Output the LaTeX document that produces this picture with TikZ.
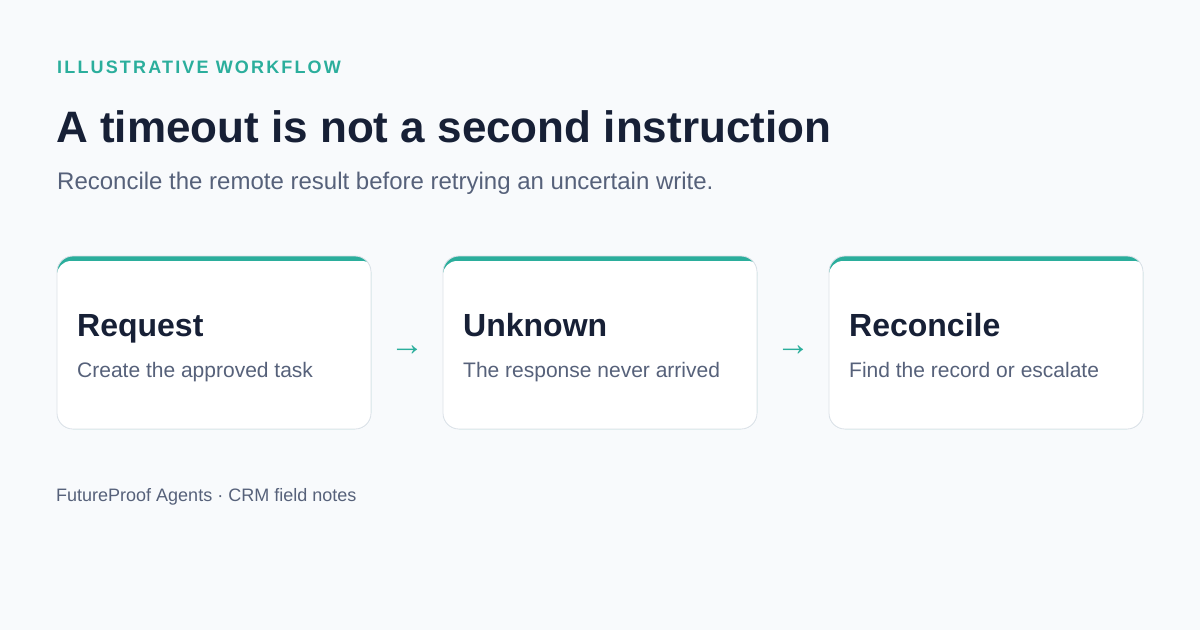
\documentclass[tikz,border=0pt]{standalone}
\usepackage{fontspec}
\setmainfont{Liberation Sans}
\newfontfamily\kickerfont[LetterSpace=12]{Liberation Sans}
\usetikzlibrary{positioning}
\definecolor{pagebg}{HTML}{F8FAFC}
\definecolor{accent}{HTML}{2BAE9C}
\definecolor{ink}{HTML}{172036}
\definecolor{muted}{HTML}{56617A}
\definecolor{cardline}{HTML}{DCE1E8}
\newcommand*{\cardwd}{314pt}
\newcommand*{\cardht}{173pt}
\newcommand*{\cardgap}{72pt}
\tikzset{
  card/.style={draw=cardline, line width=0.8pt, fill=accent, rounded corners=16pt,
    minimum width=\cardwd, minimum height=\cardht, inner sep=0pt, outer sep=0pt,
    path picture={\fill[white, rounded corners=14pt] ([yshift=-5pt]path picture bounding box.north west) rectangle
      ([xshift=5pt, yshift=-30pt]path picture bounding box.south east);
      \fill[white] ([xshift=-5pt, yshift=-16pt]path picture bounding box.north west) rectangle
      ([xshift=5pt, yshift=-30pt]path picture bounding box.south east);}},
  cardtitle/.style={anchor=base west, inner sep=0pt, text=ink, font=\fontsize{32}{38}\selectfont\bfseries},
  carddesc/.style={anchor=base west, inner sep=0pt, text=muted, font=\fontsize{21}{25}\selectfont},
  flow/.style={inner sep=0pt, text=accent, font=\fontsize{34}{36}\selectfont}
}
\begin{document}
\begin{tikzpicture}[x=1pt, y=-1pt]
    \fill[pagebg] (0,0) rectangle (1200,630);
    \useasboundingbox (0,0) rectangle (1200,630);
    % heading
    \node[anchor=base west, inner sep=0pt, text=accent, font=\kickerfont\fontsize{18}{22}\selectfont\bfseries] (kicker) at (57,73) {ILLUSTRATIVE WORKFLOW};
    \node[anchor=base west, inner sep=0pt, text=ink, font=\fontsize{44}{52}\selectfont\bfseries] (title) at (56,142) {A timeout is not a second instruction};
    \node[anchor=base west, inner sep=0pt, text=muted, font=\fontsize{24}{29}\selectfont] (subtitle) at (57,189) {Reconcile the remote result before retrying an uncertain write.};
    % cards
    \node[card, anchor=north west] (request) at (57,256) {};
    \node[card, right=\cardgap of request] (unknown) {};
    \node[card, right=\cardgap of unknown] (reconcile) {};
    \foreach \card/\head/\desc in {request/Request/Create the approved task,
        unknown/Unknown/The response never arrived,
        reconcile/Reconcile/Find the record or escalate}{
        \node[cardtitle] (\card-title) at ([xshift=20pt, yshift=-80pt]\card.north west) {\head};
        \node[carddesc] (\card-desc) at ([xshift=20pt, yshift=-121pt]\card.north west) {\desc};
    }
    % arrows between cards
    \path (request.east) -- node[flow, yshift=-8pt] (flowa) {→} (unknown.west);
    \path (unknown.east) -- node[flow, yshift=-8pt] (flowb) {→} (reconcile.west);
    % footer
    \node[anchor=base west, inner sep=0pt, text=muted, font=\fontsize{18}{22}\selectfont] (footer) at (56,501) {FutureProof Agents · CRM field notes};
\end{tikzpicture}
\end{document}
